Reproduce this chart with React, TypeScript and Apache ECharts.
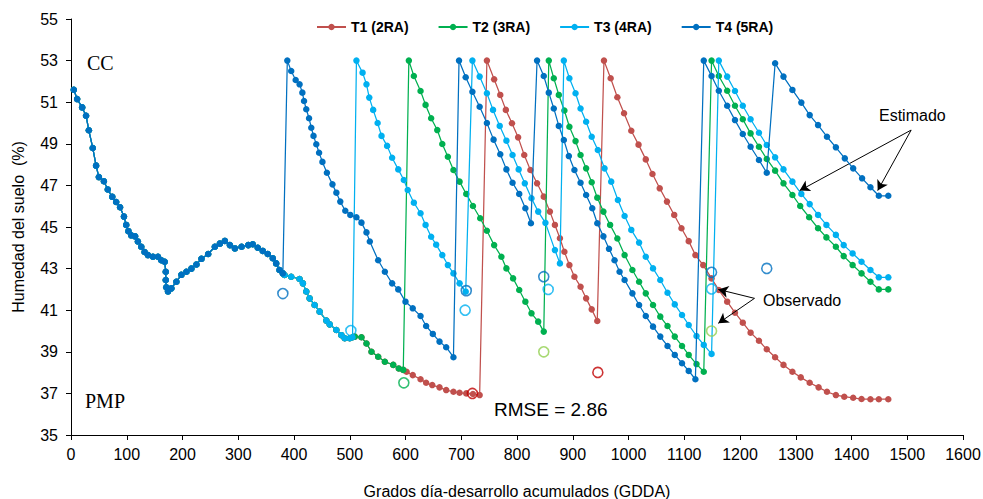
import React, { useEffect, useRef } from "react";
import * as echarts from "echarts";

type P = [number, number];

// Shared estimated path (all treatments) before the first irrigation
const sharedAll: P[] = [
  [5, 51.6], [11, 51.15], [20, 50.75], [27, 50.35], [32, 49.65], [39, 48.8], [45, 47.95], [50, 47.4],
  [59, 47.2], [66, 46.8], [74, 46.45], [81, 46.2], [88, 45.95], [95, 45.5], [99, 45.1], [103, 44.8],
  [108, 44.6], [115, 44.55], [120, 44.3], [126, 44.05], [132, 43.8], [138, 43.65], [147, 43.57],
  [156, 43.57], [162, 43.4], [168, 43.33], [170, 42.85], [170, 42.45], [171, 42.1], [174, 41.9],
  [180, 42.05], [189, 42.37], [198, 42.7], [207, 42.85], [216, 43.0], [225, 43.2], [234, 43.47],
  [246, 43.7], [258, 44.05], [267, 44.2], [276, 44.33], [285, 44.13], [294, 43.97], [306, 44.05],
  [318, 44.13], [326, 44.17], [335, 44.0], [344, 43.85], [353, 43.7], [362, 43.5], [368, 43.25],
  [374, 42.93], [380, 42.77],
];
// Shared by T1, T2, T3
const sharedT123: P[] = [
  [383, 42.69], [395, 42.61], [410, 42.5], [416, 42.29], [422, 41.9], [428, 41.57], [437, 41.25],
  [446, 40.93], [458, 40.5], [464, 40.32], [476, 40.05], [485, 39.8], [491, 39.65], [500, 39.65], [505, 39.7],
];
// Shared by T1, T2
const sharedT12: P[] = [
  [509, 39.73], [521, 39.7], [530, 39.4], [539, 39.0], [551, 38.76], [563, 38.52], [578, 38.37],
  [588, 38.2], [596, 38.13],
];

const t1Rest: P[] = [
  [602, 38.04], [613, 37.88], [627, 37.68], [637, 37.51], [648, 37.4], [661, 37.29], [673, 37.16],
  [686, 37.08], [697, 37.03], [709, 37.0], [721, 36.97], [733, 36.92],
  [746, 53], [759, 52.1], [770, 51.35], [780, 50.63], [791, 49.99], [802, 49.31], [813, 48.46],
  [824, 47.74], [836, 47.1], [848, 46.46], [859, 45.74], [868, 45.1], [877, 44.46], [885, 43.81],
  [894, 43.17], [903, 42.61], [914, 42.13], [924, 41.57], [934, 41.04], [944, 40.48],
  [956, 53], [968, 52.15], [980, 51.24], [992, 50.47], [1005, 49.63], [1018, 48.96], [1031, 48.25],
  [1043, 47.55], [1056, 46.86], [1069, 46.22], [1082, 45.58], [1095, 44.94], [1108, 44.32],
  [1120, 43.65], [1134, 43.17], [1149, 42.53], [1162, 41.97], [1177, 41.41], [1191, 40.88],
  [1205, 40.4], [1219, 39.92], [1234, 39.53], [1248, 39.12], [1263, 38.74], [1278, 38.37],
  [1294, 38.04], [1309, 37.77], [1325, 37.51], [1341, 37.29], [1356, 37.08], [1372, 36.92],
  [1387, 36.84], [1403, 36.79], [1418, 36.73], [1434, 36.72], [1449, 36.72], [1466, 36.72],
];

const t2Rest: P[] = [
  [606, 53], [615, 52.26], [627, 51.54], [636, 50.87], [646, 50.23], [657, 49.66], [666, 48.99],
  [676, 48.38], [686, 47.74], [697, 47.18], [709, 46.59], [721, 46.01], [734, 45.42], [746, 44.82],
  [759, 44.13], [772, 43.57], [781, 43.01], [793, 42.53], [804, 41.97], [815, 41.41], [826, 40.85],
  [838, 40.45], [848, 39.97],
  [857, 53], [866, 52.15], [875, 51.35], [885, 50.6], [894, 49.82], [905, 49.13], [914, 48.46],
  [924, 47.82], [934, 47.15], [944, 46.41], [955, 45.74], [967, 45.1], [980, 44.45], [993, 43.65],
  [1007, 42.93], [1019, 42.37], [1031, 41.81], [1044, 41.25], [1057, 40.69], [1070, 40.24],
  [1083, 39.73], [1096, 39.28], [1108, 38.85], [1122, 38.41], [1135, 38.04],
  [1149, 53], [1162, 52.26], [1177, 51.55], [1191, 50.83], [1205, 50.18], [1219, 49.5],
  [1234, 48.86], [1248, 48.27], [1263, 47.71], [1278, 47.1], [1294, 46.54], [1308, 46.01],
  [1324, 45.47], [1340, 44.94], [1355, 44.5], [1372, 44.05], [1386, 43.6], [1402, 43.17],
  [1418, 42.77], [1434, 42.37], [1449, 42.0], [1466, 42.0],
];

const t3Rest: P[] = [
  [512, 53], [523, 52.42], [530, 51.86], [535, 51.22], [542, 50.63], [550, 50.0], [557, 49.38],
  [567, 48.9], [576, 48.33], [587, 47.77], [597, 47.26], [604, 46.78], [615, 46.17], [627, 45.66],
  [636, 45.1], [646, 44.53], [655, 44.15], [666, 43.65], [676, 43.17], [686, 42.77], [697, 42.29],
  [708, 41.89],
  [720, 53], [733, 52.23], [746, 51.43], [757, 50.63], [769, 49.86], [781, 49.15], [792, 48.46],
  [803, 47.77], [814, 47.1], [826, 46.38], [838, 45.74], [851, 45.2], [868, 43.89], [877, 43.25],
  [884, 53], [894, 52.15], [905, 51.43], [914, 50.7], [924, 50.06], [934, 49.34], [945, 48.7],
  [957, 47.82], [969, 47.18], [981, 46.3], [993, 45.53], [1005, 44.86], [1019, 44.25],
  [1031, 43.57], [1044, 43.01], [1057, 42.45], [1070, 41.84], [1083, 41.28], [1096, 40.77],
  [1108, 40.29], [1122, 39.76], [1135, 39.33], [1149, 38.9],
  [1162, 53], [1177, 52.23], [1191, 51.54], [1205, 50.83], [1219, 50.18], [1234, 49.53],
  [1248, 48.94], [1263, 48.35], [1278, 47.77], [1294, 47.18], [1310, 46.59], [1325, 46.1],
  [1340, 45.58], [1355, 45.1], [1372, 44.62], [1386, 44.13], [1402, 43.73], [1418, 43.33],
  [1434, 42.93], [1449, 42.58], [1466, 42.58],
];

const t4Rest: P[] = [
  [388, 53], [395, 52.5], [403, 52.07], [410, 51.86], [415, 51.46], [418, 51.06], [422, 50.66],
  [427, 50.23], [431, 49.77], [435, 49.38], [440, 48.98], [445, 48.57], [451, 48.13], [459, 47.61],
  [469, 47.05], [476, 46.65], [483, 46.22], [492, 45.78], [501, 45.58], [512, 45.47], [521, 45.21],
  [530, 44.74], [536, 44.3], [551, 43.4], [563, 42.85], [576, 42.29], [587, 42.0], [600, 41.41],
  [613, 41.09], [627, 40.72], [637, 40.24], [649, 39.86], [661, 39.49], [673, 39.22], [686, 38.74],
  [696, 53], [708, 52.2], [720, 51.5], [733, 50.78], [746, 50.0], [758, 49.2], [770, 48.5],
  [781, 47.77], [792, 47.13], [804, 46.59], [815, 45.9], [825, 45.18],
  [836, 53], [848, 52.26], [857, 51.46], [866, 50.7], [875, 49.86], [884, 49.18], [893, 48.41],
  [903, 47.74], [914, 47.13], [924, 46.54], [935, 45.9], [944, 45.18], [955, 44.55], [965, 43.95],
  [975, 43.4], [984, 42.85], [993, 42.45], [1007, 41.81], [1019, 41.25], [1031, 40.72],
  [1044, 40.21], [1057, 39.73], [1070, 39.28], [1083, 38.85], [1096, 38.45], [1108, 38.08],
  [1120, 37.68],
  [1135, 53], [1149, 52.26], [1162, 51.55], [1177, 50.83], [1191, 50.14], [1205, 49.47],
  [1219, 48.86], [1234, 48.22], [1248, 47.61],
  [1263, 52.87], [1278, 52.23], [1294, 51.59], [1310, 50.98], [1325, 50.38], [1340, 49.9],
  [1356, 49.34], [1372, 48.83], [1388, 48.3], [1403, 47.82], [1419, 47.34], [1434, 46.91],
  [1449, 46.5], [1466, 46.5],
];

// Observed values (open circles)
const obsDarkBlue: P[] = [[380, 41.8], [709, 41.94], [848, 42.61], [1149, 42.82], [1248, 43.01]];
const obsLightBlue: P[] = [[502, 40.02], [707, 41.0], [856, 42.0], [1149, 42.02]];
const obsGreen: P[] = [[597, 37.51]];
const obsLightGreen: P[] = [[848, 39.0], [1149, 40.0]];
const obsRed: P[] = [[720, 37.0], [945, 38.01]];

const seriesNames = ["T1 (2RA)", "T2 (3RA)", "T3 (4RA)", "T4 (5RA)"];
const seriesColors = ["#C0504D", "#00B050", "#00B0F0", "#0070C0"];

const xTicks = { min: 0, max: 1600, interval: 100 };
const yTicks = { min: 35, max: 55, interval: 2 };

const SANS = "'Liberation Sans', Arial, sans-serif";
const SERIF = "'Liberation Serif', 'Times New Roman', serif";

export default function App() {
  const ref = useRef<HTMLDivElement>(null);
  useEffect(() => {
    document.body.style.margin = "0";
    if (!ref.current) return;
    const chart = echarts.init(ref.current, null, { renderer: "svg" });

    const t1 = [...sharedAll, ...sharedT123, ...sharedT12, ...t1Rest];
    const t2 = [...sharedAll, ...sharedT123, ...sharedT12, ...t2Rest];
    const t3 = [...sharedAll, ...sharedT123, ...t3Rest];
    const t4 = [...sharedAll, ...t4Rest];
    const lines = [t1, t2, t3, t4];

    const lineSeries = lines.map((d, i) => ({
      name: seriesNames[i],
      type: "line",
      data: d,
      symbol: "circle",
      symbolSize: 6.5,
      showAllSymbol: true,
      lineStyle: { color: seriesColors[i], width: 1.25 },
      itemStyle: { color: seriesColors[i] },
      z: 2 + i,
      silent: true,
    }));

    const obs = (data: P[], color: string, extra: any = {}) => ({
      type: "scatter",
      data,
      symbol: "circle",
      symbolSize: 10,
      itemStyle: { color: "rgba(0,0,0,0)", borderColor: color, borderWidth: 1.6 },
      z: 10,
      silent: true,
      ...extra,
    });

    const arrowLine = (a: P, b: P) => [
      { coord: a, symbol: "none" },
      { coord: b, symbol: "arrow" },
    ];

    chart.setOption({
      animation: false,
      grid: { left: 71, right: 20, top: 19, bottom: 64, containLabel: false, outerBoundsMode: "none" },
      legend: {
        data: seriesNames,
        left: 311,
        top: 15,
        itemWidth: 29,
        itemHeight: 8,
        itemGap: 29,
        textStyle: { fontFamily: SANS, fontSize: 14, fontWeight: "bold", color: "#000" },
      },
      xAxis: {
        type: "value",
        min: xTicks.min,
        max: xTicks.max,
        interval: xTicks.interval,
        name: "Grados día-desarrollo acumulados (GDDA)",
        nameLocation: "middle",
        nameGap: 48,
        nameTextStyle: { fontFamily: SANS, fontSize: 16, color: "#000" },
        axisLine: { lineStyle: { color: "#000", width: 1 } },
        axisTick: { show: true, length: 5, lineStyle: { color: "#000" } },
        axisLabel: {
          fontFamily: SANS,
          fontSize: 16,
          color: "#000",
          margin: 11,
          formatter: (v: number) => String(v),
        },
        splitLine: { show: false },
      },
      yAxis: {
        type: "value",
        min: yTicks.min,
        max: yTicks.max,
        interval: yTicks.interval,
        name: "Humedad del suelo  (%)",
        nameLocation: "middle",
        nameGap: 45,
        nameTextStyle: { fontFamily: SANS, fontSize: 16, color: "#000" },
        axisLine: { show: true, lineStyle: { color: "#000", width: 1 } },
        axisTick: { show: true, length: 5, lineStyle: { color: "#000" } },
        axisLabel: {
          fontFamily: SANS,
          fontSize: 16,
          color: "#000",
          margin: 13,
          formatter: (v: number) => String(v),
        },
        splitLine: { show: false },
      },
      series: [
        ...lineSeries,
        obs(obsRed, "#C00000", {
          markLine: {
            silent: true,
            symbolSize: [9, 10],
            lineStyle: { color: "#000", width: 1, type: "solid" },
            label: { show: false },
            data: [
              arrowLine([1507, 49.66], [1307, 46.75]),
              arrowLine([1507, 49.66], [1447, 46.75]),
              arrowLine([1226, 41.57], [1161, 42.0]),
              arrowLine([1226, 41.57], [1161, 40.37]),
            ],
          },
        }),
        obs(obsGreen, "#00B050"),
        obs(obsLightGreen, "#92D050"),
        obs(obsLightBlue, "#00B0F0"),
        obs(obsDarkBlue, "#0070C0"),
      ],
      graphic: [
        { type: "text", left: 87, top: 53, style: { text: "CC", font: `20px ${SERIF}`, fill: "#000" } },
        { type: "text", left: 85, top: 391, style: { text: "PMP", font: `20px ${SERIF}`, fill: "#000" } },
        { type: "text", left: 494, top: 400, style: { text: "RMSE = 2.86", font: `19px ${SANS}`, fill: "#000" } },
        { type: "text", left: 879, top: 107, style: { text: "Estimado", font: `16px ${SANS}`, fill: "#000" } },
        { type: "text", left: 763, top: 292, style: { text: "Observado", font: `16px ${SANS}`, fill: "#000" } },
      ],
    });
    return () => chart.dispose();
  }, []);
  return <div ref={ref} style={{ width: 983, height: 499 }} />;
}
